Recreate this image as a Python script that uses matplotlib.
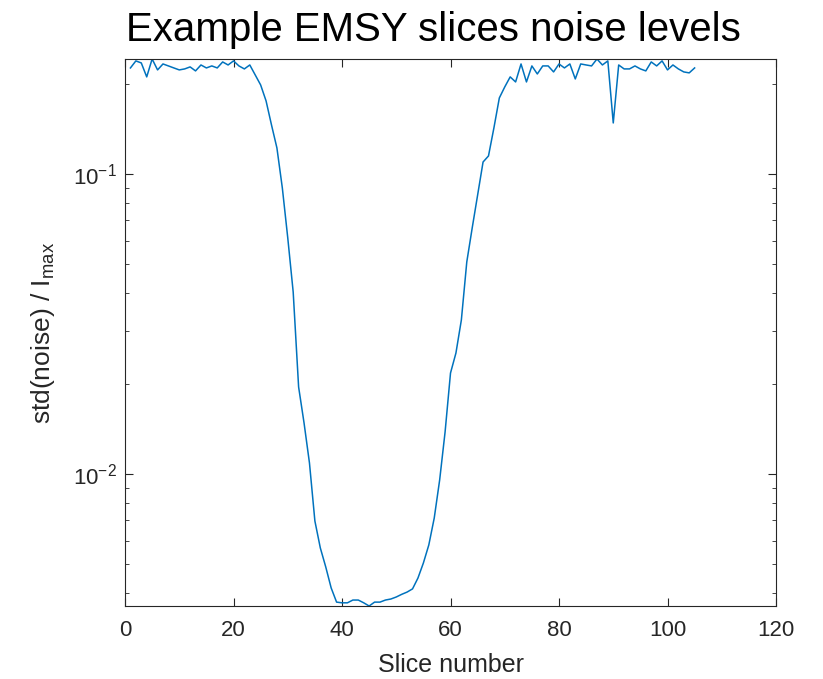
import matplotlib
matplotlib.use("Agg")
import matplotlib.pyplot as plt
import numpy as np

plt.rcParams['font.family'] = ['Liberation Sans', 'DejaVu Sans']
plt.rcParams['mathtext.default'] = 'regular'
plt.rcParams['axes.unicode_minus'] = False

# slice numbers 1..105 and noise level per slice
slices = list(range(1, 106))
noise = [0.2256, 0.2381, 0.2344, 0.2106, 0.2416, 0.2222, 0.2326, 0.2291, 0.2256, 0.2222,
         0.2239, 0.2274, 0.2205, 0.2308, 0.2256, 0.2291, 0.2256, 0.2362, 0.2308, 0.2381,
         0.2291, 0.2239, 0.2308, 0.2138, 0.1980, 0.1752, 0.1457, 0.1221, 0.0898, 0.0612,
         0.0404, 0.0195, 0.0148, 0.01088, 0.00697, 0.00567, 0.00490, 0.00417, 0.00374, 0.00372,
         0.00372, 0.00380, 0.00380, 0.00372, 0.00363, 0.00374, 0.00374, 0.00380, 0.00383, 0.00389,
         0.00397, 0.00404, 0.00414, 0.00450, 0.00505, 0.00580, 0.00713, 0.00955, 0.0138, 0.0217,
         0.0253, 0.0326, 0.0509, 0.0661, 0.0851, 0.1096, 0.1148, 0.1424, 0.1792, 0.1950,
         0.2106, 0.2026, 0.2326, 0.2026, 0.2291, 0.2154, 0.2291, 0.2291, 0.2188, 0.2326,
         0.2256, 0.2326, 0.2073, 0.2326, 0.2308, 0.2291, 0.2416, 0.2308, 0.2381, 0.1479,
         0.2308, 0.2239, 0.2239, 0.2291, 0.2239, 0.2205, 0.2362, 0.2291, 0.2381, 0.2222,
         0.2308, 0.2239, 0.2188, 0.2172, 0.2256]

x_ticks = [0, 20, 40, 60, 80, 100, 120]

fig = plt.figure(figsize=(8.23, 6.79), dpi=100)
ax = fig.add_axes([0.1519, 0.1075, 0.791, 0.8056])

ax.plot(slices, noise, color='#0072BD', linewidth=1.1)
ax.set_yscale('log')
ax.set_xlim(0, 120)
ax.set_ylim(min(noise), max(noise))
ax.set_xticks(x_ticks)

dark = '#262626'
for s in ax.spines.values():
    s.set_color(dark)
    s.set_linewidth(0.8)
ax.tick_params(which='both', direction='in', top=True, right=True, colors=dark,
               labelcolor=dark, labelsize=16)
ax.tick_params(which='major', length=6)
ax.tick_params(which='minor', length=3)
ax.tick_params(axis='x', pad=10)
ax.tick_params(axis='y', pad=6)

# title sits a little left of the axes centre, as in the original
fig.text(0.527, 0.9396, 'Example EMSY slices noise levels', fontsize=29,
         color='black', ha='center', va='baseline')
ax.set_xlabel('Slice number', fontsize=18, color=dark, labelpad=9)
ax.set_ylabel('std(noise) / I$_{max}$', fontsize=19, color=dark, labelpad=11)

fig.savefig('out.png', dpi=100)
